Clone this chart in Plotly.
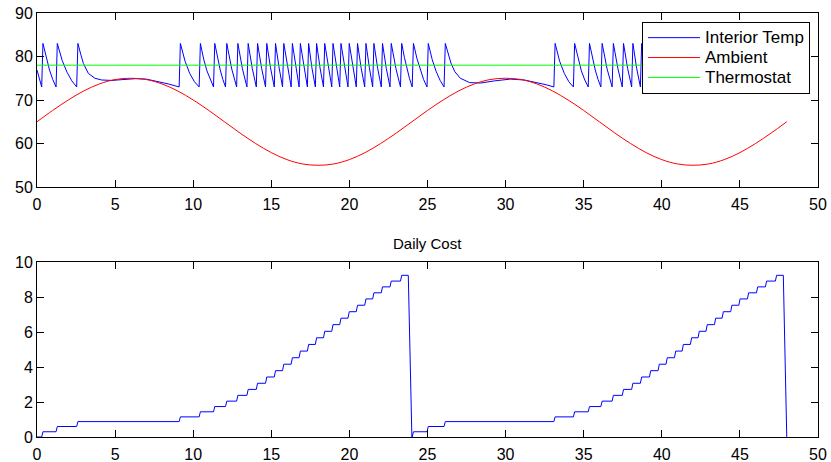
import plotly.graph_objects as go
from plotly.subplots import make_subplots

# Hours for ambient temperature (hourly readings over two days)
ambient_hours = list(range(0, 49))
ambient_temp = [65.0, 67.6, 70.0, 72.1, 73.7, 74.7, 75.0, 74.7, 73.7, 72.1, 70.0, 67.6,
                65.0, 62.4, 60.0, 57.9, 56.3, 55.3, 55.0, 55.3, 56.3, 57.9, 60.0, 62.4,
                65.0, 67.6, 70.0, 72.1, 73.7, 74.7, 75.0, 74.7, 73.7, 72.1, 70.0, 67.6,
                65.0, 62.4, 60.0, 57.9, 56.3, 55.3, 55.0, 55.3, 56.3, 57.9, 60.0, 62.4,
                65.0]

thermostat_hours = [0, 48]
thermostat_temp = [78, 78]

# Interior temperature (heater cycles 73 -> 83)
interior_hours = [
    0.00, 0.15, 0.30, 0.38, 0.59, 0.80, 1.01, 1.22, 1.30, 1.61, 1.92, 2.23, 2.54,
    2.62, 2.80, 2.97, 3.29, 3.71, 4.14, 4.80, 5.50, 6.30, 7.00, 7.70, 8.40, 9.10,
    9.18, 9.48, 9.78, 10.08, 10.38, 10.46, 10.67, 10.88, 11.09, 11.30,
    11.38, 11.55, 11.73, 11.90, 12.07, 12.15, 12.47, 12.78, 12.86, 13.15, 13.44,
    13.52, 13.78, 14.04, 14.12, 14.38, 14.63, 14.71, 14.95, 15.19, 15.27, 15.50, 15.72,
    15.80, 16.04, 16.27, 16.35, 16.57, 16.78, 16.86, 17.09, 17.31, 17.39, 17.60, 17.82,
    17.90, 18.12, 18.34, 18.42, 18.65, 18.87, 18.95, 19.17, 19.38, 19.46, 19.69, 19.91,
    19.99, 20.22, 20.44, 20.52, 20.75, 20.98, 21.06, 21.28, 21.49, 21.57, 21.81, 22.04,
    22.12, 22.36, 22.60, 22.68, 22.98, 23.27, 23.35, 23.52, 23.68, 23.85, 24.02,
    24.10, 24.32, 24.54, 24.75, 24.97, 25.05, 25.30, 25.55, 25.81, 26.06,
    26.14, 26.30, 26.50, 26.75, 27.10, 27.70, 28.40, 29.30, 30.30, 31.20, 32.00, 32.60, 33.09,
    33.17, 33.46, 33.76, 34.05, 34.34, 34.42, 34.64, 34.85, 35.07, 35.29,
    35.37, 35.55, 35.74, 35.92, 36.10, 36.18, 36.50, 36.82, 36.90, 37.19, 37.47,
    37.55, 37.81, 38.07, 38.15, 38.39, 38.63, 38.71, 38.96, 39.21, 39.29, 39.52, 39.76,
    39.84, 40.05, 40.27, 40.35, 40.58, 40.81, 40.89, 41.09, 41.30, 41.38, 41.60, 41.83,
    41.91, 42.11, 42.32, 42.40, 42.61, 42.83, 42.91, 43.14, 43.37, 43.45, 43.65, 43.86,
    43.94, 44.17, 44.41, 44.49, 44.71, 44.93, 45.01, 45.24, 45.48, 45.56, 45.81, 46.06,
    46.14, 46.38, 46.63, 46.71, 46.99, 47.27, 47.35, 47.55, 47.75, 48.00,
]
interior_temp = [
    76.9, 74.8, 73.0, 83.0, 79.6, 76.9, 74.7, 73.0, 83.0, 79.1, 76.4, 74.4, 73.0,
    83.0, 80.5, 78.4, 76.1, 75.0, 74.6, 74.5, 74.7, 74.9, 74.8, 74.3, 73.7, 73.0,
    83.0, 78.9, 76.1, 74.2, 73.0, 83.0, 79.4, 76.7, 74.6, 73.0,
    83.0, 79.6, 76.9, 74.7, 73.0, 83.0, 77.1, 73.0, 83.0, 77.2, 73.0,
    83.0, 77.3, 73.0, 83.0, 77.3, 73.0, 83.0, 77.4, 73.0, 83.0, 77.4, 73.0,
    83.0, 77.4, 73.0, 83.0, 77.4, 73.0, 83.0, 77.4, 73.0, 83.0, 77.4, 73.0,
    83.0, 77.4, 73.0, 83.0, 77.4, 73.0, 83.0, 77.4, 73.0, 83.0, 77.4, 73.0,
    83.0, 77.4, 73.0, 83.0, 77.4, 73.0, 83.0, 77.4, 73.0, 83.0, 77.3, 73.0,
    83.0, 77.3, 73.0, 83.0, 77.2, 73.0, 83.0, 79.8, 77.1, 74.9, 73.0,
    83.0, 79.6, 76.9, 74.7, 73.0, 83.0, 79.3, 76.6, 74.5, 73.0,
    83.0, 80.8, 78.5, 76.5, 75.0, 74.0, 73.9, 74.4, 74.8, 74.6, 74.0, 73.5, 73.0,
    83.0, 78.9, 76.1, 74.2, 73.0, 83.0, 79.4, 76.7, 74.6, 73.0,
    83.0, 79.6, 76.9, 74.7, 73.0, 83.0, 77.1, 73.0, 83.0, 77.2, 73.0,
    83.0, 77.3, 73.0, 83.0, 77.3, 73.0, 83.0, 77.4, 73.0, 83.0, 77.4, 73.0,
    83.0, 77.4, 73.0, 83.0, 77.4, 73.0, 83.0, 77.4, 73.0, 83.0, 77.4, 73.0,
    83.0, 77.4, 73.0, 83.0, 77.4, 73.0, 83.0, 77.4, 73.0, 83.0, 77.4, 73.0,
    83.0, 77.4, 73.0, 83.0, 77.4, 73.0, 83.0, 77.4, 73.0, 83.0, 77.3, 73.0,
    83.0, 77.3, 73.0, 83.0, 77.2, 73.0, 83.0, 79.6, 77.0, 74.3,
]

# Cumulative daily cost (resets at midnight)
cost_hours = [
    0.00, 0.30, 0.38, 1.22, 1.30, 2.54, 2.62, 9.10, 9.18, 10.38, 10.46, 11.30, 11.38,
    12.07, 12.15, 12.78, 12.86, 13.44, 13.52, 14.04, 14.12, 14.63, 14.71, 15.19, 15.27,
    15.72, 15.80, 16.27, 16.35, 16.78, 16.86, 17.31, 17.39, 17.82, 17.90, 18.34, 18.42,
    18.87, 18.95, 19.38, 19.46, 19.91, 19.99, 20.44, 20.52, 20.98, 21.06, 21.49, 21.57,
    22.04, 22.12, 22.60, 22.68, 23.27, 23.35, 23.77, 24.00,
    24.02, 24.10, 24.97, 25.05, 26.06, 26.14, 33.09, 33.17, 34.34, 34.42, 35.29, 35.37,
    36.10, 36.18, 36.82, 36.90, 37.47, 37.55, 38.07, 38.15, 38.63, 38.71, 39.21, 39.29,
    39.76, 39.84, 40.27, 40.35, 40.81, 40.89, 41.30, 41.38, 41.83, 41.91, 42.32, 42.40,
    42.83, 42.91, 43.37, 43.45, 43.86, 43.94, 44.41, 44.49, 44.93, 45.01, 45.48, 45.56,
    46.06, 46.14, 46.63, 46.71, 47.27, 47.35, 47.78, 48.00,
]
cost_values = [
    0.00, 0.00, 0.30, 0.30, 0.60, 0.60, 0.88, 0.88, 1.15, 1.15, 1.44, 1.44, 1.74,
    1.74, 2.05, 2.05, 2.38, 2.38, 2.72, 2.72, 3.07, 3.07, 3.43, 3.43, 3.79,
    3.79, 4.16, 4.16, 4.53, 4.53, 4.91, 4.91, 5.29, 5.29, 5.67, 5.67, 6.04,
    6.04, 6.42, 6.42, 6.79, 6.79, 7.16, 7.16, 7.53, 7.53, 7.89, 7.89, 8.24,
    8.24, 8.58, 8.58, 8.91, 8.91, 9.24, 9.24, 0.00,
    0.00, 0.30, 0.30, 0.60, 0.60, 0.88, 0.88, 1.15, 1.15, 1.44, 1.44, 1.74,
    1.74, 2.05, 2.05, 2.38, 2.38, 2.72, 2.72, 3.07, 3.07, 3.43, 3.43, 3.79,
    3.79, 4.16, 4.16, 4.53, 4.53, 4.91, 4.91, 5.29, 5.29, 5.67, 5.67, 6.04,
    6.04, 6.42, 6.42, 6.79, 6.79, 7.16, 7.16, 7.53, 7.53, 7.89, 7.89, 8.24,
    8.24, 8.58, 8.58, 8.91, 8.91, 9.24, 9.24, 0.00,
]

FONT = 'Liberation Sans, Arial, Helvetica, sans-serif'


def legend_name(text):
    # bigger text than the legend font, so rows stay tight like MATLAB's legend
    return f'<span style="font-size:17px">{text}</span>'


fig = make_subplots(rows=2, cols=1)

fig.add_trace(go.Scatter(x=interior_hours, y=interior_temp, mode='lines',
                         line=dict(color='#0000ff', width=1), name=legend_name('Interior Temp')),
              row=1, col=1)
fig.add_trace(go.Scatter(x=ambient_hours, y=ambient_temp, mode='lines',
                         line=dict(color='#ff0000', width=1, shape='spline'),
                         name=legend_name('Ambient')),
              row=1, col=1)
fig.add_trace(go.Scatter(x=thermostat_hours, y=thermostat_temp, mode='lines',
                         line=dict(color='#00ff00', width=1), name=legend_name('Thermostat')),
              row=1, col=1)
fig.add_trace(go.Scatter(x=cost_hours, y=cost_values, mode='lines',
                         line=dict(color='#0000ff', width=1), showlegend=False),
              row=2, col=1)

# MATLAB-like boxed axes
axis_style = dict(
    showline=True, linecolor='black', linewidth=1, mirror='ticks',
    ticks='inside', ticklen=7, tickcolor='black', tickwidth=1,
    showgrid=False, zeroline=False, automargin=False, ticklabeloverflow='allow',
    tickfont=dict(size=16, color='black', family=FONT),
)

fig.update_xaxes(axis_style, range=[0, 50], dtick=5, domain=[0, 1], ticklabelstandoff=3)
fig.update_yaxes(axis_style, range=[50, 90], dtick=10, domain=[0.5896, 1], row=1, col=1)
fig.update_yaxes(axis_style, range=[0, 10], dtick=2, domain=[0, 0.4127], row=2, col=1)

fig.update_layout(
    width=831, height=462,
    margin=dict(l=37, r=13, t=13, b=25),
    paper_bgcolor='white', plot_bgcolor='white',
    font=dict(family=FONT, size=16, color='black'),
    showlegend=True,
    legend=dict(
        x=0.9898, y=0.9795, xanchor='right', yanchor='top',
        bgcolor='white', bordercolor='black', borderwidth=1,
        font=dict(size=13, color='black', family=FONT),
        itemwidth=52, tracegroupgap=0,
    ),
    annotations=[dict(
        text='Daily Cost', xref='paper', yref='paper', x=0.5, y=0.4575,
        xanchor='center', yanchor='middle', showarrow=False,
        font=dict(size=15, color='black', family=FONT),
    )],
)

# drop the default 8px page margin so the figure sits at the window's corner
fig.write_html("out.html", config={'displayModeBar': False},
               post_script="document.body.style.margin = '0';")
